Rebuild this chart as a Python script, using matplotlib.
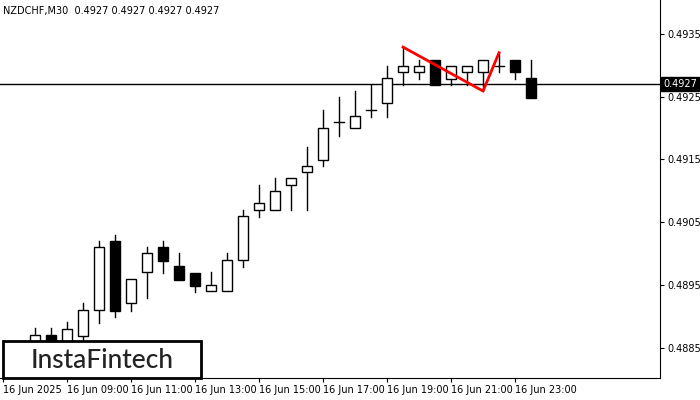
import matplotlib
matplotlib.use("Agg")
import matplotlib.pyplot as plt
from matplotlib.patches import Rectangle

# OHLC of the 30-minute candles, first one at 08:00
opens = [0.4886, 0.48871, 0.4886, 0.48869, 0.48911, 0.49020, 0.48922, 0.48971, 0.49011, 0.48981,
         0.48970, 0.48941, 0.48941, 0.4899, 0.4907, 0.4907, 0.4911, 0.4913, 0.49149, 0.4921,
         0.4920, 0.49229, 0.4924, 0.4929, 0.4929, 0.49309, 0.49278, 0.4929, 0.4929, 0.49299,
         0.49309, 0.4928]
highs = [0.48882, 0.48882, 0.48891, 0.48922, 0.49020, 0.49030, 0.4896, 0.49011, 0.4902, 0.49001,
         0.4897, 0.48971, 0.49001, 0.4907, 0.4911, 0.49121, 0.49121, 0.4917, 0.49229, 0.4925,
         0.49259, 0.49269, 0.49299, 0.49329, 0.49309, 0.49309, 0.49299, 0.49299, 0.49309, 0.4932,
         0.49309, 0.49309]
lows = [0.4884, 0.4884, 0.4885, 0.4886, 0.48890, 0.48899, 0.48909, 0.4893, 0.4897, 0.48958,
        0.48939, 0.48941, 0.48941, 0.48979, 0.49059, 0.4907, 0.4907, 0.4907, 0.4914, 0.49188,
        0.4920, 0.49218, 0.49218, 0.49269, 0.49278, 0.49269, 0.49269, 0.49269, 0.49259, 0.4929,
        0.49278, 0.49248]
closes = [0.4887, 0.48855, 0.4888, 0.48911, 0.49011, 0.48909, 0.4896, 0.49001, 0.48989, 0.48958,
          0.48949, 0.4895, 0.4899, 0.4906, 0.49081, 0.4910, 0.49121, 0.4914, 0.4920, 0.4921,
          0.49219, 0.49229, 0.4928, 0.49299, 0.49299, 0.49269, 0.49299, 0.49299, 0.49309, 0.49299,
          0.4929, 0.49248]

pattern_idx = [23, 28, 29]
pattern_px = [0.49329, 0.49259, 0.4932]
last_price = 0.4927

tick_labels = ["16 Jun 2025", "16 Jun 09:00", "16 Jun 11:00", "16 Jun 13:00", "16 Jun 15:00",
               "16 Jun 17:00", "16 Jun 19:00", "16 Jun 21:00", "16 Jun 23:00"]
price_ticks = [0.4885, 0.4895, 0.4905, 0.4915, 0.4925, 0.4935]

fig = plt.figure(figsize=(7, 4), dpi=100)
ax = fig.add_axes([0, 22 / 400, 660 / 700, 378 / 400])

w = 0.6
for i, (o, h, l, c) in enumerate(zip(opens, highs, lows, closes)):
    lo, hi = min(o, c), max(o, c)
    ax.plot([i, i], [hi, h], color="black", lw=1)
    ax.plot([i, i], [l, lo], color="black", lw=1)
    if abs(c - o) < 1e-6:
        ax.plot([i - w / 2, i + w / 2], [o, o], color="black", lw=1)
    else:
        ax.add_patch(Rectangle((i - w / 2, lo), w, hi - lo, lw=1, edgecolor="black",
                               facecolor="black" if c < o else "white", zorder=3))

ax.plot(pattern_idx, pattern_px, color="red", lw=2, zorder=4)
ax.axhline(last_price, color="black", lw=1, zorder=2)

ax.set_xlim(-2.19, 39.06)
ax.set_ylim(0.48802, 0.49404)
ax.set_xticks(range(-2, -2 + 4 * len(tick_labels), 4))
ax.set_xticklabels(tick_labels, fontsize=7, ha="left")
ax.yaxis.tick_right()
ax.set_yticks(price_ticks)
ax.set_yticklabels([f"{p:.4f}" for p in price_ticks], fontsize=7)
ax.tick_params(length=3, pad=2)
for s in ["top", "left"]:
    ax.spines[s].set_visible(False)

ax.text(1.005, last_price, f"{last_price:.4f}", transform=ax.get_yaxis_transform(),
        fontsize=7, color="white", va="center", ha="left",
        bbox=dict(boxstyle="square,pad=0.2", fc="black", ec="black"), clip_on=False)
ax.text(0.005, 0.985, "NZDCHF,M30  0.4927 0.4927 0.4927 0.4927", transform=ax.transAxes,
        fontsize=7, va="top", ha="left")

fig.patches.append(Rectangle((3 / 700, 22 / 400), 198 / 700, 37 / 400, transform=fig.transFigure,
                             facecolor="white", edgecolor="black", lw=2, zorder=10))
fig.text(102 / 700, 40 / 400, "InstaFintech", fontsize=19, ha="center", va="center",
         color="#222222", fontweight="medium", family="Lato", zorder=11)

fig.savefig("out.png", dpi=100)
